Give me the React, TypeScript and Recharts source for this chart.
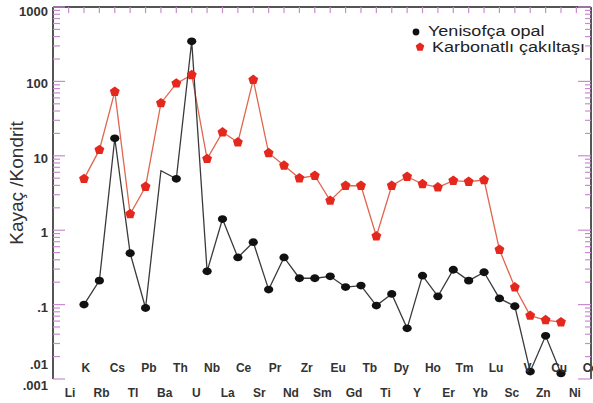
import React from "react";
import { Legend, Line, LineChart, XAxis, YAxis } from "recharts";

const elements = ["Li", "K", "Rb", "Cs", "Tl", "Pb", "Ba", "Th", "U", "Nb", "La", "Ce", "Sr", "Pr", "Nd", "Zr", "Sm", "Eu", "Gd", "Tb", "Ti", "Dy", "Y", "Ho", "Er", "Tm", "Yb", "Lu", "Sc", "V", "Zn", "Cu", "Ni", "Co"];

const opal = [null, 0.1, 0.21, 17.2, 0.49, 0.09, 6.3, 4.9, 346, 0.28, 1.41, 0.43, 0.69, 0.159, 0.43, 0.226, 0.226, 0.24, 0.172, 0.18, 0.097, 0.139, 0.048, 0.245, 0.129, 0.294, 0.21, 0.272, 0.121, 0.095, 0.0126, 0.038, 0.0119, null];

const carbonate = [null, 4.9, 12, 72.7, 1.65, 3.84, 51, 94, 122, 9.1, 20.7, 15.2, 105, 10.9, 7.4, 5.0, 5.4, 2.5, 3.96, 3.96, 0.83, 3.96, 5.24, 4.18, 3.77, 4.63, 4.49, 4.73, 0.547, 0.171, 0.071, 0.062, 0.058, null];

// Ba has a kink in the opal line but no marker
const opalNoMarker = ["Ba"];

const seriesNames = ["Yenisofça opal", "Karbonatlı çakıltaşı"];

const yMajor = [0.01, 0.1, 1, 10, 100, 1000];
const yMajorText = [".01", ".1", "1", "10", "100", "1000"];
const yBelowText = ".001";

const yTicks: number[] = [];
yMajor.forEach((v, k) => {
  yTicks.push(v);
  if (k < yMajor.length - 1) for (let m = 2; m <= 9; m++) yTicks.push(+(v * m).toPrecision(3));
});

const data = elements.map((el, i) => ({ i, el, opal: opal[i], carbonate: carbonate[i] }));
const xTicks = elements.map((_, i) => i);

const FONT = "'Liberation Sans', Arial, sans-serif";
const PINK = "#c98bd0";
const FRAME = "#555";

function majorIndex(v: number) {
  return yMajor.findIndex((m) => Math.abs(Math.log10(m) - Math.log10(v)) < 1e-6);
}

function LeftTick({ x, y, payload }: any) {
  const k = majorIndex(payload.value);
  const len = k >= 0 ? 12 : 7;
  return (
    <g>
      <line x1={x} x2={x + len} y1={y} y2={y} stroke={PINK} strokeWidth={1.2} />
      {k === 0 ? (
        <>
          <text x={x - 5} y={y - 10.5} textAnchor="end" fontSize={13} fontWeight="bold" fill="#333" fontFamily={FONT}>{yMajorText[k]}</text>
          <text x={x - 5} y={y + 10.5} textAnchor="end" fontSize={13} fontWeight="bold" fill="#333" fontFamily={FONT}>{yBelowText}</text>
        </>
      ) : k > 0 ? (
        <text x={x - 5} y={k === yMajor.length - 1 ? y + 9 : y + 7} textAnchor="end" fontSize={13} fontWeight="bold" fill="#333" fontFamily={FONT}>{yMajorText[k]}</text>
      ) : null}
    </g>
  );
}

function RightTick({ x, y, payload }: any) {
  const len = majorIndex(payload.value) >= 0 ? 13 : 6;
  return <line x1={x} x2={x - len} y1={y} y2={y} stroke={PINK} strokeWidth={1.2} />;
}

function BottomTick({ x, y }: any) {
  return <line x1={x} x2={x} y1={y} y2={y - 6} stroke={PINK} strokeWidth={1.2} />;
}

function TopTick({ x, y }: any) {
  return <line x1={x} x2={x} y1={y} y2={y + 6} stroke={PINK} strokeWidth={1.2} />;
}

function LabelTick({ x, y, payload }: any) {
  const upper = payload.value % 2 === 1;
  return (
    <text x={x} y={upper ? y - 6.7 : y + 17.8} textAnchor="middle" fontSize={12} fontWeight="bold" fill="#333" fontFamily={FONT}>
      {elements[payload.value]}
    </text>
  );
}

function YTitle({ viewBox }: any) {
  const cx = viewBox.x + 16;
  const cy = viewBox.y + viewBox.height / 2 - 10;
  return (
    <text x={cx} y={cy} transform={`rotate(-90 ${cx} ${cy})`} textAnchor="middle" dominantBaseline="central" fontSize={19} fill="#333" fontFamily={FONT}>
      Kayaç /Kondrit
    </text>
  );
}

function OpalDot({ cx, cy, payload }: any) {
  if (cx == null || cy == null || payload.opal == null || opalNoMarker.includes(payload.el)) return <g key={payload.el} />;
  return <ellipse key={payload.el} cx={cx} cy={cy} rx={4.6} ry={3.9} fill="#111" />;
}

function pentagon(cx: number, cy: number, r: number) {
  const pts = [];
  for (let k = 0; k < 5; k++) {
    const a = -Math.PI / 2 + (k * 2 * Math.PI) / 5;
    pts.push(`${cx + r * Math.cos(a)},${cy + r * Math.sin(a)}`);
  }
  return pts.join(" ");
}

function CarbDot({ cx, cy, payload }: any) {
  if (cx == null || cy == null || payload.carbonate == null) return <g key={payload.el} />;
  return <polygon key={payload.el} points={pentagon(cx, cy, 5.2)} fill="#e5281e" />;
}

const legendText: React.CSSProperties = { display: "inline-block", transform: "scaleY(0.85)", whiteSpace: "nowrap" };

function LegendBox() {
  return (
    <div style={{ fontFamily: FONT, fontSize: 18, color: "#222", lineHeight: "16px" }}>
      <div style={{ display: "flex", alignItems: "center", height: 16 }}>
        <svg width={18} height={16}>
          <circle cx={6} cy={9} r={3.4} fill="#111" />
        </svg>
        <span style={legendText}>{seriesNames[0]}</span>
      </div>
      <div style={{ display: "flex", alignItems: "center", height: 16 }}>
        <svg width={22} height={16}>
          <polygon points={pentagon(10, 8, 4.5)} fill="#e5281e" />
        </svg>
        <span style={legendText}>{seriesNames[1]}</span>
      </div>
    </div>
  );
}

export default function App() {
  return (
    <div style={{ position: "absolute", left: 0, top: 0, background: "#fff" }}>
      <LineChart width={593} height={403} data={data} margin={{ top: 0, right: 0, bottom: 0, left: 0 }}>
        <XAxis xAxisId="data" dataKey="i" type="number" domain={[-1.015, 33.95]} ticks={xTicks} interval={0} height={0} tickSize={0} tickMargin={0} tickLine={false} axisLine={{ stroke: FRAME, strokeWidth: 2 }} tick={<BottomTick />} />
        <XAxis xAxisId="labels" dataKey="i" type="number" domain={[-1.077, 33.02]} ticks={xTicks} interval={0} height={24} tickSize={0} tickMargin={0} tickLine={false} axisLine={false} tick={<LabelTick />} />
        <XAxis xAxisId="top" orientation="top" dataKey="i" type="number" domain={[-1.015, 33.95]} ticks={xTicks} interval={0} height={7} tickSize={0} tickMargin={0} tickLine={false} axisLine={{ stroke: FRAME, strokeWidth: 2 }} tick={<TopTick />} />
        <YAxis yAxisId="left" type="number" scale="log" domain={[0.01, 1000]} ticks={yTicks} interval={0} width={53} tickSize={0} tickMargin={0} tickLine={false} axisLine={{ stroke: FRAME, strokeWidth: 2 }} tick={<LeftTick />} label={<YTitle />} />
        <YAxis yAxisId="right" orientation="right" type="number" scale="log" domain={[0.01, 1000]} ticks={yTicks} interval={0} width={2} tickSize={0} tickMargin={0} tickLine={false} axisLine={{ stroke: FRAME, strokeWidth: 2 }} tick={<RightTick />} />
        <Legend layout="horizontal" verticalAlign="middle" align="center" content={<LegendBox />} wrapperStyle={{ left: 410, top: 23, width: 183 }} />
        <Line xAxisId="labels" yAxisId="left" dataKey="carbonate" stroke="none" dot={false} activeDot={false} legendType="none" isAnimationActive={false} />
        <Line xAxisId="top" yAxisId="right" dataKey="carbonate" stroke="none" dot={false} activeDot={false} legendType="none" isAnimationActive={false} />
        <Line xAxisId="data" yAxisId="left" dataKey="carbonate" name={seriesNames[1]} stroke="#e0664f" strokeWidth={1.3} dot={<CarbDot />} activeDot={false} isAnimationActive={false} />
        <Line xAxisId="data" yAxisId="left" dataKey="opal" name={seriesNames[0]} stroke="#3a3a3a" strokeWidth={1.3} dot={<OpalDot />} activeDot={false} isAnimationActive={false} />
      </LineChart>
    </div>
  );
}
